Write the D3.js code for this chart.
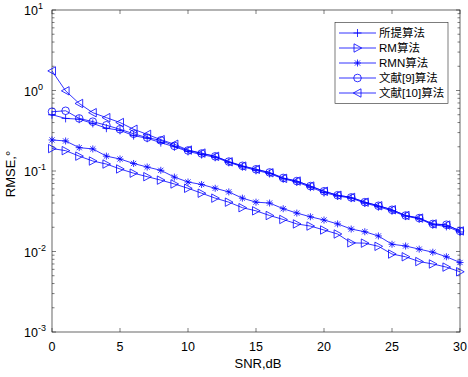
<!DOCTYPE html>
<html>
<head>
<meta charset="utf-8">
<script src="https://cdn.jsdelivr.net/npm/d3@7"></script>
<style>
  body { margin: 0; background: #fff; }
  svg { display: block; font-family: "Liberation Sans", Arial, "Noto Sans CJK SC", sans-serif; }
</style>
</head>
<body>
<svg id="svg" width="468" height="377"></svg>
<script>
const snr = d3.range(0, 31)

const proposed = [0.50, 0.45, 0.44, 0.39, 0.34, 0.32, 0.275, 0.255, 0.225, 0.20, 0.175, 0.16, 0.148, 0.128, 0.113, 0.102, 0.093, 0.080, 0.073, 0.063, 0.054, 0.049, 0.046, 0.040, 0.036, 0.032, 0.0275, 0.0255, 0.0215, 0.0205, 0.0175]
const rm = [0.19, 0.179, 0.153, 0.133, 0.122, 0.106, 0.094, 0.085, 0.077, 0.069, 0.061, 0.053, 0.046, 0.041, 0.035, 0.032, 0.028, 0.025, 0.022, 0.0207, 0.0185, 0.0165, 0.0128, 0.0127, 0.0116, 0.0093, 0.0086, 0.0075, 0.0070, 0.0064, 0.0056]
const rmn = [0.243, 0.236, 0.195, 0.188, 0.153, 0.141, 0.124, 0.112, 0.102, 0.084, 0.073, 0.068, 0.061, 0.055, 0.046, 0.041, 0.040, 0.034, 0.030, 0.027, 0.0246, 0.022, 0.019, 0.0176, 0.0156, 0.0123, 0.0117, 0.0107, 0.0098, 0.0086, 0.0073]
const ref9 = [0.545, 0.56, 0.45, 0.41, 0.37, 0.33, 0.29, 0.26, 0.24, 0.205, 0.18, 0.165, 0.152, 0.131, 0.116, 0.105, 0.096, 0.082, 0.075, 0.065, 0.056, 0.050, 0.047, 0.041, 0.037, 0.033, 0.028, 0.026, 0.022, 0.0215, 0.018]
const ref10 = [1.75, 0.99, 0.69, 0.53, 0.46, 0.40, 0.33, 0.285, 0.245, 0.215, 0.182, 0.167, 0.152, 0.130, 0.115, 0.105, 0.095, 0.081, 0.075, 0.065, 0.056, 0.050, 0.047, 0.041, 0.037, 0.033, 0.028, 0.026, 0.022, 0.0213, 0.018]

const seriesNames = ['所提算法', 'RM算法', 'RMN算法', '文献[9]算法', '文献[10]算法']
const seriesValues = [proposed, rm, rmn, ref9, ref10]
const markerTypes = ['plus', 'triRight', 'star', 'circle', 'triLeft']

const xTicks = [0, 5, 10, 15, 20, 25, 30]
const yExponents = [1, 0, -1, -2, -3]

const blue = '#0000ff'
const axisColor = '#262626'

const plotLeft = 52, plotRight = 460, plotTop = 10, plotBottom = 332

const x = d3.scaleLinear().domain([0, 30]).range([plotLeft, plotRight])
const y = d3.scaleLog().domain([1e-3, 10]).range([plotBottom, plotTop])

const svg = d3.select('#svg')

const markerPath = (type) => {
  const p = d3.path()
  if (type === 'plus') {
    p.moveTo(-4, 0); p.lineTo(4, 0); p.moveTo(0, -4); p.lineTo(0, 4)
  } else if (type === 'star') {
    p.moveTo(-3.5, 0); p.lineTo(3.5, 0); p.moveTo(0, -3.5); p.lineTo(0, 3.5)
    p.moveTo(-2.6, -2.6); p.lineTo(2.6, 2.6); p.moveTo(-2.6, 2.6); p.lineTo(2.6, -2.6)
  } else if (type === 'triRight') {
    p.moveTo(-3.5, -4.2); p.lineTo(4.2, 0); p.lineTo(-3.5, 4.2); p.closePath()
  } else if (type === 'triLeft') {
    p.moveTo(3.5, -4.2); p.lineTo(-4.2, 0); p.lineTo(3.5, 4.2); p.closePath()
  } else {
    p.arc(0, 0, 3.8, 0, 2 * Math.PI)
  }
  return p.toString()
}

// axes box with inward ticks
const axes = svg.append('g')

const minor = []
for (let e = -3; e < 1; e++) {
  for (let k = 2; k <= 9; k++) minor.push(k * Math.pow(10, e))
}

axes.append('g').selectAll('line')
  .data(xTicks)
  .join('line')
  .attr('x1', d => x(d)).attr('x2', d => x(d))
  .attr('y1', plotBottom).attr('y2', plotBottom - 4)
  .attr('stroke', axisColor).attr('stroke-width', 0.6)
axes.append('g').selectAll('line')
  .data(xTicks)
  .join('line')
  .attr('x1', d => x(d)).attr('x2', d => x(d))
  .attr('y1', plotTop).attr('y2', plotTop + 4)
  .attr('stroke', axisColor).attr('stroke-width', 0.6)

const yTickData = yExponents.map(e => ({ v: Math.pow(10, e), len: 4 }))
  .concat(minor.map(v => ({ v, len: 2.5 })))

axes.append('g').selectAll('line')
  .data(yTickData)
  .join('line')
  .attr('x1', plotLeft).attr('x2', d => plotLeft + d.len)
  .attr('y1', d => y(d.v)).attr('y2', d => y(d.v))
  .attr('stroke', axisColor).attr('stroke-width', 0.6)
axes.append('g').selectAll('line')
  .data(yTickData)
  .join('line')
  .attr('x1', plotRight).attr('x2', d => plotRight - d.len)
  .attr('y1', d => y(d.v)).attr('y2', d => y(d.v))
  .attr('stroke', axisColor).attr('stroke-width', 0.6)

axes.append('rect')
  .attr('x', plotLeft).attr('y', plotTop)
  .attr('width', plotRight - plotLeft).attr('height', plotBottom - plotTop)
  .attr('fill', 'none').attr('stroke', axisColor).attr('stroke-width', 0.7)

// tick labels
svg.append('g').selectAll('text')
  .data(xTicks)
  .join('text')
  .attr('x', d => x(d)).attr('y', plotBottom + 19)
  .attr('text-anchor', 'middle')
  .attr('font-size', 12.5)
  .attr('fill', '#000')
  .text(d => d)

const yl = svg.append('g').selectAll('text')
  .data(yExponents)
  .join('text')
  .attr('x', 24).attr('y', d => y(Math.pow(10, d)) + 5)
  .attr('font-size', 12.5)
  .attr('fill', '#000')
yl.append('tspan').text('10')
yl.append('tspan').attr('dy', -6).attr('font-size', 9).text(d => d)

// axis titles
svg.append('text')
  .attr('x', (plotLeft + plotRight) / 2 + 2).attr('y', plotBottom + 36)
  .attr('text-anchor', 'middle')
  .attr('font-size', 13)
  .text('SNR,dB')

svg.append('text')
  .attr('transform', `translate(15, ${(plotTop + plotBottom) / 2 + 3}) rotate(-90)`)
  .attr('text-anchor', 'middle')
  .attr('font-size', 13)
  .text('RMSE,°')

// series
const line = d3.line()
  .x((d, i) => x(snr[i]))
  .y(d => y(d))

seriesValues.forEach((vals, si) => {
  const g = svg.append('g')
  g.append('path')
    .attr('d', line(vals))
    .attr('fill', 'none')
    .attr('stroke', blue)
    .attr('stroke-width', 0.8)
  g.selectAll('path.m')
    .data(vals)
    .join('path')
    .attr('class', 'm')
    .attr('transform', (d, i) => `translate(${x(snr[i])}, ${y(d)})`)
    .attr('d', markerPath(markerTypes[si]))
    .attr('fill', 'none')
    .attr('stroke', blue)
    .attr('stroke-width', 0.8)
})

// legend
const lg = svg.append('g')
lg.append('rect')
  .attr('x', 335).attr('y', 22.5)
  .attr('width', 113).attr('height', 81)
  .attr('fill', '#fff').attr('stroke', axisColor).attr('stroke-width', 0.6)

const rows = lg.selectAll('g.row')
  .data(seriesNames)
  .join('g')
  .attr('transform', (d, i) => `translate(0, ${33 + i * 15})`)
rows.append('line')
  .attr('x1', 339).attr('x2', 376)
  .attr('stroke', blue).attr('stroke-width', 0.8)
rows.append('path')
  .attr('transform', 'translate(357.5, 0)')
  .attr('d', (d, i) => markerPath(markerTypes[i]))
  .attr('fill', 'none').attr('stroke', blue).attr('stroke-width', 0.8)
rows.append('text')
  .attr('x', 379).attr('y', 4)
  .attr('font-size', 11.5)
  .attr('fill', '#000')
  .text(d => d)
</script>
</body>
</html>
